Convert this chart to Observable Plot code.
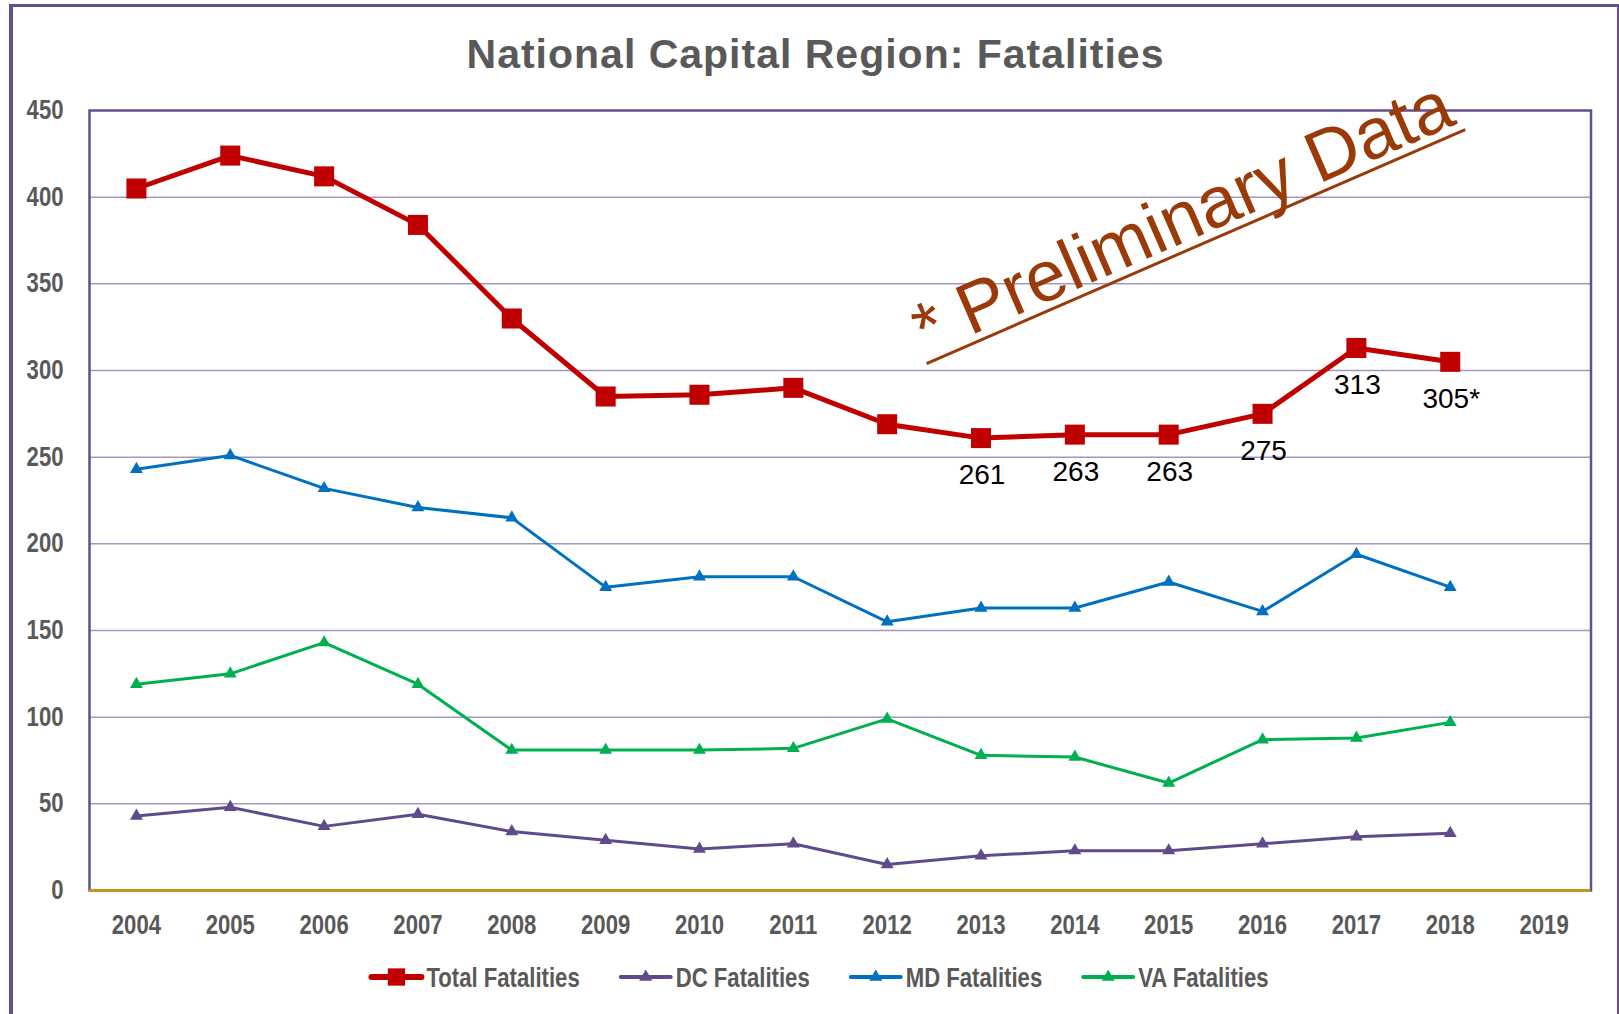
<!DOCTYPE html>
<html>
<head>
<meta charset="utf-8">
<script src="https://cdn.jsdelivr.net/npm/d3@7"></script>
<script src="https://cdn.jsdelivr.net/npm/@observablehq/plot@0.6"></script>
<style>
  html, body { margin: 0; padding: 0; background: #fff; width: 1619px; height: 1014px; overflow: hidden; }
  #frame { position: absolute; left: 9px; top: 4px; width: 1610px; height: 1100px; box-sizing: border-box;
           border-left: 4px solid #654E8C; border-top: 3px solid #654E8C; border-right: 2px solid #654E8C; }
  #page { position: absolute; left: 0; top: 0; width: 1619px; }
  #title { position: relative; z-index: 2; height: 6px; padding-top: 34px; line-height: 41px; overflow: visible;
           text-align: center; padding-left: 12px;
           font-family: "Liberation Sans", Arial, sans-serif; font-weight: bold; font-size: 41px;
           letter-spacing: 1px; color: #595959; white-space: nowrap; }
  #chart svg, #legend svg { display: block; }
</style>
</head>
<body>
<div id="frame"></div>
<div id="page">
  <div id="title">National Capital Region: Fatalities</div>
  <div id="chart"></div>
  <div id="legend"></div>
</div>
<script>
// ---- data ----
const years = [2004, 2005, 2006, 2007, 2008, 2009, 2010, 2011, 2012, 2013, 2014, 2015, 2016, 2017, 2018];
const totalFatalities = [405, 424, 412, 384, 330, 285, 286, 290, 269, 261, 263, 263, 275, 313, 305];
const dcFatalities    = [43, 48, 37, 44, 34, 29, 24, 27, 15, 20, 23, 23, 27, 31, 33];
const mdFatalities    = [243, 251, 232, 221, 215, 175, 181, 181, 155, 163, 163, 178, 161, 194, 175];
const vaFatalities    = [119, 125, 143, 119, 81, 81, 81, 82, 99, 78, 77, 62, 87, 88, 97];
const seriesNames = ["Total Fatalities", "DC Fatalities", "MD Fatalities", "VA Fatalities"];
const xTicks = [2004, 2005, 2006, 2007, 2008, 2009, 2010, 2011, 2012, 2013, 2014, 2015, 2016, 2017, 2018, 2019];
const yTicks = [0, 50, 100, 150, 200, 250, 300, 350, 400, 450];
const labelYears = [2013, 2014, 2015, 2016, 2017, 2018];
const labelTexts = ["261", "263", "263", "275", "313", "305*"];
const noteText = ["* Preliminary Data"];
const noteAnchor = [{x: 2015.15, y: 388}];
const noteUnderline = [{x1: 2012.42, y1: 304, x2: 2018.16, y2: 439}];

// ---- styles ----
const styles = {
  "Total Fatalities": {color: "#C00000", width: 5, symbol: "square", r: 11.3},
  "DC Fatalities":    {color: "#5F4B8B", width: 3, symbol: "triangle", r: 4.8},
  "MD Fatalities":    {color: "#0070C0", width: 3, symbol: "triangle", r: 4.8},
  "VA Fatalities":    {color: "#00B050", width: 3, symbol: "triangle", r: 4.8}
};
const valuesByName = {
  "Total Fatalities": totalFatalities,
  "DC Fatalities": dcFatalities,
  "MD Fatalities": mdFatalities,
  "VA Fatalities": vaFatalities
};
const rowsFor = name => years.map((yr, i) => ({year: yr, value: valuesByName[name][i]}));
const labels = labelYears.map((yr, i) => ({year: yr, value: totalFatalities[years.indexOf(yr)], text: labelTexts[i]}));
const notes = noteAnchor.map((d, i) => ({...d, text: noteText[i]}));

const sans = '"Liberation Sans", Arial, sans-serif';
const NARROW = 0.82;   // emulate a narrow face
const axisFont = 27;
const drawOrder = ["DC Fatalities", "MD Fatalities", "VA Fatalities", "Total Fatalities"];

const marks = [
  Plot.ruleY(yTicks.filter(v => v > 0 && v < 450), {stroke: "#A198C2", strokeWidth: 1.5}),
  Plot.frame({stroke: "#654E8C", strokeWidth: 2.5}),
  Plot.ruleY([0], {stroke: "#C99A0A", strokeWidth: 2.5}),
  Plot.axisY(yTicks, {tickSize: 0, tickPadding: 26, fontSize: axisFont, fontFamily: sans, fontWeight: "bold", fill: "#595959"}),
  Plot.axisX(xTicks, {tickSize: 0, tickPadding: 24, tickFormat: d => String(d), fontSize: axisFont, fontFamily: sans, fontWeight: "bold", fill: "#595959"}),
  Plot.link(noteUnderline, {x1: "x1", y1: "y1", x2: "x2", y2: "y2", stroke: "#993A08", strokeWidth: 3}),
  Plot.text(notes, {x: "x", y: "y", text: "text", rotate: -23.5, fontSize: 72, fill: "#993A08",
                    fontFamily: sans, textAnchor: "middle", lineAnchor: "middle"})
];
for (const name of drawOrder) {
  const s = styles[name];
  const rows = rowsFor(name);
  marks.push(Plot.line(rows, {x: "year", y: "value", stroke: s.color, strokeWidth: s.width}));
  marks.push(Plot.dot(rows, {x: "year", y: "value", symbol: s.symbol, r: s.r, fill: s.color, stroke: "none"}));
}
marks.push(Plot.text(labels, {x: "year", y: "value", text: "text", dy: 37, dx: 1, fontSize: 28, fill: "#000", fontFamily: sans}));

const chart = Plot.plot({
  width: 1619,
  height: 900,
  marginLeft: 89,
  marginRight: 28.5,
  marginTop: 70,
  marginBottom: 50,
  x: {type: "linear", domain: [2003.5, 2019.5], axis: null},
  y: {domain: [0, 450], axis: null},
  marks
});
document.getElementById("chart").appendChild(chart);

// narrow the axis tick labels about their anchor points
d3.select(chart).selectAll('g[aria-label="y-axis tick label"] text, g[aria-label="x-axis tick label"] text').each(function () {
  const el = d3.select(this);
  const x = +el.attr("x") || 0, y = +el.attr("y") || 0;
  const t = el.attr("transform") || "";
  el.attr("transform", `${t} translate(${x},${y}) scale(${NARROW},1) translate(${-x},${-y})`);
});

// ---- legend (below the chart) ----
const legendSvg = d3.select("#legend").append("svg").attr("width", 1619).attr("height", 74);
const cy = 37, swatchW = 56, textGap = 2, itemGap = 38;
const groups = [];
let total = 0;
for (const name of seriesNames) {
  const s = styles[name];
  const g = legendSvg.append("g");
  g.append("line").attr("x1", 3).attr("x2", swatchW - 3).attr("y1", 0).attr("y2", 0)
    .attr("stroke", s.color).attr("stroke-width", s.width + 1).attr("stroke-linecap", "round");
  const sym = s.symbol === "square" ? d3.symbolSquare : d3.symbolTriangle;
  g.append("path").attr("d", d3.symbol(sym, s.symbol === "square" ? 300 : 75)())
    .attr("transform", `translate(${swatchW / 2},0)`).attr("fill", s.color);
  const txt = g.append("text").text(name)
    .attr("font-family", sans).attr("font-weight", "bold").attr("font-size", axisFont).attr("fill", "#595959")
    .attr("dy", "0.36em")
    .attr("transform", `translate(${swatchW + textGap},0) scale(${NARROW},1)`);
  const w = swatchW + textGap + txt.node().getComputedTextLength() * NARROW;
  groups.push({g, w});
  total += w;
}
total += itemGap * (seriesNames.length - 1);
let x0 = 818.5 - total / 2;
for (const {g, w} of groups) {
  g.attr("transform", `translate(${x0},${cy})`);
  x0 += w + itemGap;
}
</script>
</body>
</html>
